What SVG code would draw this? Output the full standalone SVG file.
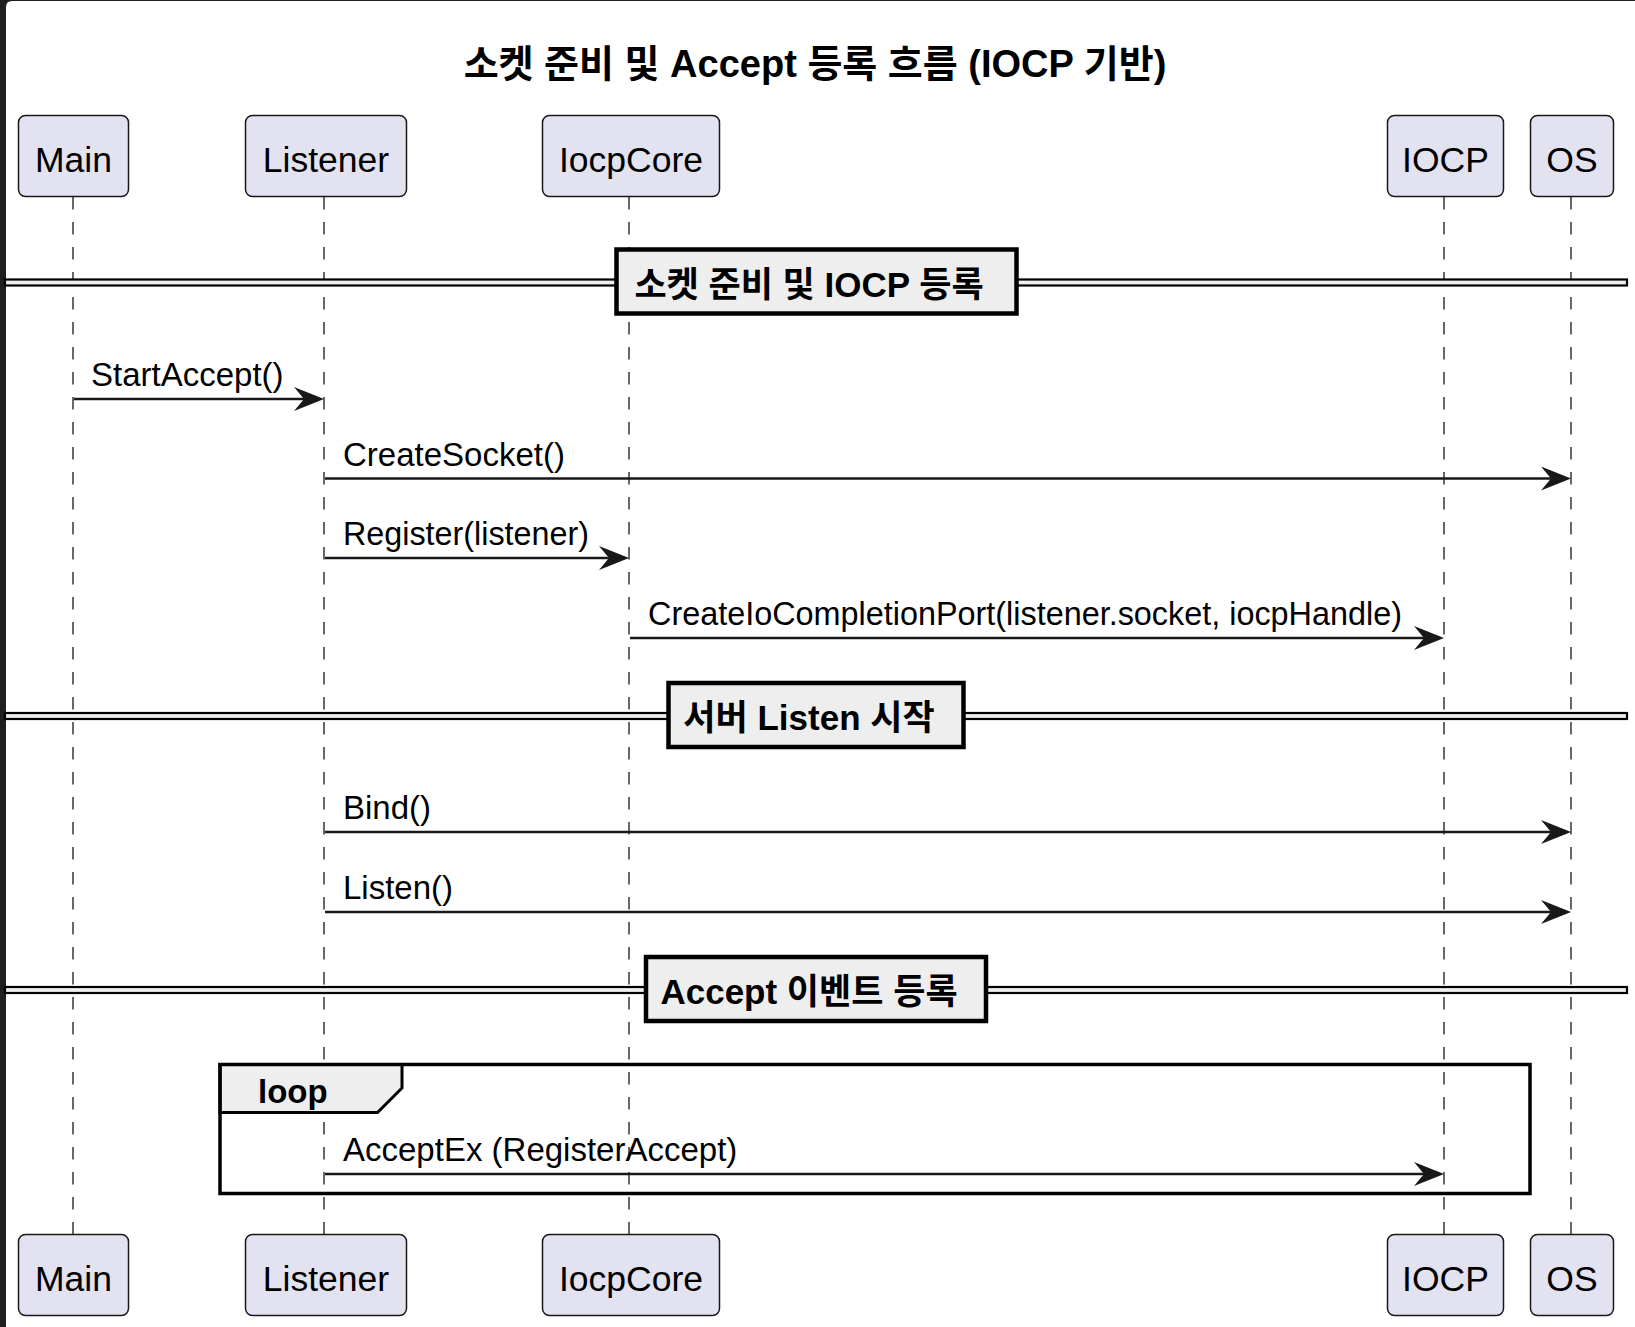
<svg xmlns="http://www.w3.org/2000/svg" width="1635" height="1327" viewBox="0 0 1635 1327">
  <defs>
    <style>
      .part rect { fill: #E2E2F0; stroke: #181818; stroke-width: 1.5; }
      .part text { font-family: "Liberation Sans", "Noto Sans CJK KR", sans-serif; font-size: 35.5px; fill: #000; text-anchor: middle; }
      .life { stroke: #181818; stroke-width: 1.3; stroke-dasharray: 12.5 12.5; fill: none; }
      .msg line { stroke: #181818; stroke-width: 2.6; }
      .msg text { font-family: "Liberation Sans", "Noto Sans CJK KR", sans-serif; font-size: 33px; fill: #000; }
      .div .band { fill: #EEEEEE; stroke: #000; stroke-width: 2.2; }
      .div .box { fill: #EEEEEE; stroke: #000; stroke-width: 4.5; }
      .div text { font-family: "Liberation Sans", "Noto Sans CJK KR", sans-serif; font-size: 35px; font-weight: bold; fill: #000; text-anchor: middle; }
      .title { font-family: "Liberation Sans", "Noto Sans CJK KR", sans-serif; font-size: 38px; font-weight: bold; fill: #000; text-anchor: middle; }
    </style>
    <marker id="arr" viewBox="0 0 30 24" refX="26" refY="12" markerWidth="30" markerHeight="24" markerUnits="userSpaceOnUse" orient="auto">
      <path d="M0,0 L30,12 L0,24 L10,12 Z" fill="#181818"/>
    </marker>
  </defs>

  <!-- frame -->
  <rect x="0" y="0" width="1635" height="1327" fill="#1f1f1f"/>
  <path d="M6,7 Q6,1 12,1 L1635,1 L1635,1327 L6,1327 Z" fill="#FFFFFF"/>

  <text class="title" x="815" y="77">소켓 준비 및 Accept 등록 흐름 (IOCP 기반)</text>

  <!-- lifelines -->
  <g id="lifelines">
    <line class="life" x1="73" y1="197" x2="73" y2="1234"/>
    <line class="life" x1="324" y1="197" x2="324" y2="1234"/>
    <line class="life" x1="629" y1="197" x2="629" y2="1234"/>
    <line class="life" x1="1444" y1="197" x2="1444" y2="1234"/>
    <line class="life" x1="1571" y1="197" x2="1571" y2="1234"/>
  </g>

  <!-- participants top -->
  <g id="main-top" class="part"><rect x="18.5" y="115.5" width="110" height="81" rx="7"/><text x="73.5" y="171.5">Main</text></g>
  <g id="listener-top" class="part"><rect x="245.5" y="115.5" width="161" height="81" rx="7"/><text x="326" y="171.5">Listener</text></g>
  <g id="iocpcore-top" class="part"><rect x="542.5" y="115.5" width="177" height="81" rx="7"/><text x="631" y="171.5">IocpCore</text></g>
  <g id="iocp-top" class="part"><rect x="1387.5" y="115.5" width="116" height="81" rx="7"/><text x="1445.5" y="171.5">IOCP</text></g>
  <g id="os-top" class="part"><rect x="1530.5" y="115.5" width="83" height="81" rx="7"/><text x="1572" y="171.5">OS</text></g>

  <!-- participants bottom -->
  <g id="main-bottom" class="part"><rect x="18.5" y="1234.5" width="110" height="81" rx="7"/><text x="73.5" y="1290.5">Main</text></g>
  <g id="listener-bottom" class="part"><rect x="245.5" y="1234.5" width="161" height="81" rx="7"/><text x="326" y="1290.5">Listener</text></g>
  <g id="iocpcore-bottom" class="part"><rect x="542.5" y="1234.5" width="177" height="81" rx="7"/><text x="631" y="1290.5">IocpCore</text></g>
  <g id="iocp-bottom" class="part"><rect x="1387.5" y="1234.5" width="116" height="81" rx="7"/><text x="1445.5" y="1290.5">IOCP</text></g>
  <g id="os-bottom" class="part"><rect x="1530.5" y="1234.5" width="83" height="81" rx="7"/><text x="1572" y="1290.5">OS</text></g>

  <!-- dividers -->
  <g id="divider-1" class="div">
    <rect class="band" x="5" y="279.5" width="1622" height="6"/>
    <rect class="box" x="616.5" y="249.5" width="400" height="64"/>
    <text x="809" y="297">소켓 준비 및 IOCP 등록</text>
  </g>
  <g id="divider-2" class="div">
    <rect class="band" x="5" y="713" width="1622" height="6"/>
    <rect class="box" x="668.5" y="683" width="295" height="64"/>
    <text x="809" y="730">서버 Listen 시작</text>
  </g>
  <g id="divider-3" class="div">
    <rect class="band" x="5" y="987" width="1622" height="6"/>
    <rect class="box" x="646" y="957" width="340" height="64"/>
    <text x="809" y="1004">Accept 이벤트 등록</text>
  </g>

  <!-- loop frame -->
  <g id="loop">
    <path d="M220,1064.5 L402,1064.5 L402,1088 L377.5,1112.5 L220,1112.5 Z" fill="#EEEEEE" stroke="#000" stroke-width="3"/>
    <rect x="220" y="1064.5" width="1310" height="129" fill="none" stroke="#000" stroke-width="3.5"/>
    <text x="258" y="1103" font-family="Liberation Sans, sans-serif" font-size="33" font-weight="bold" fill="#000">loop</text>
  </g>

  <!-- connectors -->
  <g id="connectors">
    <g class="msg"><line x1="74" y1="399" x2="320" y2="399" marker-end="url(#arr)"/><text x="91" y="386">StartAccept()</text></g>
    <g class="msg"><line x1="325" y1="478.5" x2="1567" y2="478.5" marker-end="url(#arr)"/><text x="343" y="465.5">CreateSocket()</text></g>
    <g class="msg"><line x1="325" y1="558" x2="625" y2="558" marker-end="url(#arr)"/><text x="343" y="545" textLength="246" lengthAdjust="spacingAndGlyphs">Register(listener)</text></g>
    <g class="msg"><line x1="630" y1="638" x2="1440" y2="638" marker-end="url(#arr)"/><text x="648" y="625" textLength="754" lengthAdjust="spacingAndGlyphs">CreateIoCompletionPort(listener.socket, iocpHandle)</text></g>
    <g class="msg"><line x1="325" y1="832" x2="1567" y2="832" marker-end="url(#arr)"/><text x="343" y="819">Bind()</text></g>
    <g class="msg"><line x1="325" y1="912" x2="1567" y2="912" marker-end="url(#arr)"/><text x="343" y="899">Listen()</text></g>
    <g class="msg"><line x1="325" y1="1174" x2="1440" y2="1174" marker-end="url(#arr)"/><text x="343" y="1161">AcceptEx (RegisterAccept)</text></g>
  </g>
</svg>
